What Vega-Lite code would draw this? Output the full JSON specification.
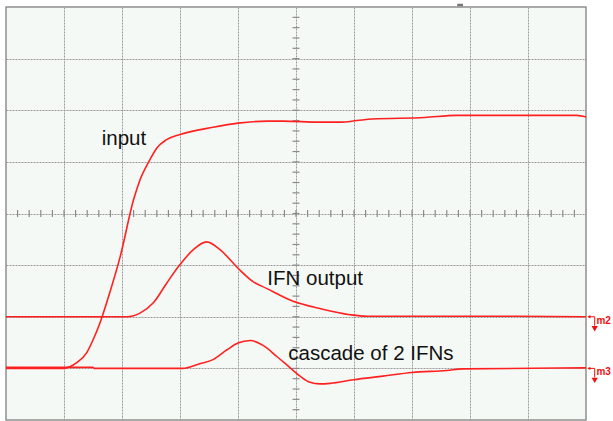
{
  "$schema": "https://vega.github.io/schema/vega-lite/v6.json",
  "width": 580,
  "height": 413,
  "autosize": {"type": "none", "contains": "content"},
  "padding": {"left": 6, "top": 7, "right": 27, "bottom": 1},
  "background": "white",
  "config": {
    "view": {"stroke": "#8f8f8f", "strokeWidth": 1.5, "fill": "#f5f9f5"},
    "axis": {"labels": false, "ticks": false, "domain": false, "grid": true, "gridColor": "#9a9a9a", "gridDash": [2, 1], "gridWidth": 1, "title": null}
  },
  "layer": [
    {
      "data": {"values": [{"x":0.2},{"x":0.4},{"x":0.6},{"x":0.8},{"x":1},{"x":1.2},{"x":1.4},{"x":1.6},{"x":1.8},{"x":2},{"x":2.2},{"x":2.4},{"x":2.6},{"x":2.8},{"x":3},{"x":3.2},{"x":3.4},{"x":3.6},{"x":3.8},{"x":4},{"x":4.2},{"x":4.4},{"x":4.6},{"x":4.8},{"x":5},{"x":5.2},{"x":5.4},{"x":5.6},{"x":5.8},{"x":6},{"x":6.2},{"x":6.4},{"x":6.6},{"x":6.8},{"x":7},{"x":7.2},{"x":7.4},{"x":7.6},{"x":7.8},{"x":8},{"x":8.2},{"x":8.4},{"x":8.6},{"x":8.8},{"x":9},{"x":9.2},{"x":9.4},{"x":9.6},{"x":9.8}]},
      "mark": {"type": "rule", "color": "#8a8a8a", "strokeWidth": 1.2},
      "encoding": {
        "x": {"field": "x", "type": "quantitative", "scale": {"domain": [0, 10], "nice": false, "zero": false}, "axis": {"values": [1, 2, 3, 4, 5, 6, 7, 8, 9], "title": null}},
        "y": {"datum": -0.07, "type": "quantitative", "scale": {"domain": [-4, 4], "nice": false, "zero": false}, "axis": {"values": [-3, -2, -1, 0, 1, 2, 3], "title": null}},
        "y2": {"datum": 0.07}
      }
    },
    {
      "data": {"values": [{"y":-3.8},{"y":-3.6},{"y":-3.4},{"y":-3.2},{"y":-3},{"y":-2.8},{"y":-2.6},{"y":-2.4},{"y":-2.2},{"y":-2},{"y":-1.8},{"y":-1.6},{"y":-1.4},{"y":-1.2},{"y":-1},{"y":-0.8},{"y":-0.6},{"y":-0.4},{"y":-0.2},{"y":0},{"y":0.2},{"y":0.4},{"y":0.6},{"y":0.8},{"y":1},{"y":1.2},{"y":1.4},{"y":1.6},{"y":1.8},{"y":2},{"y":2.2},{"y":2.4},{"y":2.6},{"y":2.8},{"y":3},{"y":3.2},{"y":3.4},{"y":3.6},{"y":3.8}]},
      "mark": {"type": "rule", "color": "#8a8a8a", "strokeWidth": 1.2},
      "encoding": {
        "x": {"datum": 4.94, "type": "quantitative"},
        "x2": {"datum": 5.06},
        "y": {"field": "y", "type": "quantitative"}
      }
    },
    {
      "data": {"values": [
        {"series":"input","x":0,"y":-3.0},
        {"series":"input","x":1.0,"y":-3.0},
        {"series":"input","x":1.1,"y":-2.97},
        {"series":"input","x":1.22,"y":-2.89},
        {"series":"input","x":1.39,"y":-2.7},
        {"series":"input","x":1.5,"y":-2.45},
        {"series":"input","x":1.62,"y":-2.12},
        {"series":"input","x":1.79,"y":-1.53},
        {"series":"input","x":1.97,"y":-0.83},
        {"series":"input","x":2.2,"y":0.27},
        {"series":"input","x":2.31,"y":0.65},
        {"series":"input","x":2.48,"y":1.04},
        {"series":"input","x":2.6,"y":1.27},
        {"series":"input","x":2.77,"y":1.43},
        {"series":"input","x":3.0,"y":1.53},
        {"series":"input","x":3.57,"y":1.67},
        {"series":"input","x":4.0,"y":1.75},
        {"series":"input","x":4.5,"y":1.79},
        {"series":"input","x":4.78,"y":1.79},
        {"series":"input","x":5.4,"y":1.77},
        {"series":"input","x":5.76,"y":1.77},
        {"series":"input","x":6.05,"y":1.8},
        {"series":"input","x":6.31,"y":1.83},
        {"series":"input","x":7.22,"y":1.86},
        {"series":"input","x":7.77,"y":1.9},
        {"series":"input","x":9.84,"y":1.9},
        {"series":"input","x":10,"y":1.87},
        {"series":"ifn","x":0,"y":-2.0},
        {"series":"ifn","x":2.08,"y":-2.0},
        {"series":"ifn","x":2.2,"y":-1.98},
        {"series":"ifn","x":2.31,"y":-1.93},
        {"series":"ifn","x":2.54,"y":-1.73},
        {"series":"ifn","x":2.77,"y":-1.35},
        {"series":"ifn","x":3.0,"y":-0.99},
        {"series":"ifn","x":3.23,"y":-0.7},
        {"series":"ifn","x":3.46,"y":-0.55},
        {"series":"ifn","x":3.69,"y":-0.7},
        {"series":"ifn","x":4.0,"y":-1.06},
        {"series":"ifn","x":4.26,"y":-1.32},
        {"series":"ifn","x":4.49,"y":-1.45},
        {"series":"ifn","x":4.95,"y":-1.7},
        {"series":"ifn","x":5.41,"y":-1.84},
        {"series":"ifn","x":5.93,"y":-1.96},
        {"series":"ifn","x":6.22,"y":-1.99},
        {"series":"ifn","x":8.8,"y":-1.99},
        {"series":"ifn","x":10,"y":-2.0},
        {"series":"cascade","x":0,"y":-2.98},
        {"series":"cascade","x":1.5,"y":-2.98},
        {"series":"cascade","x":1.52,"y":-3.0},
        {"series":"cascade","x":3.05,"y":-3.0},
        {"series":"cascade","x":3.34,"y":-2.91},
        {"series":"cascade","x":3.57,"y":-2.83},
        {"series":"cascade","x":3.81,"y":-2.64},
        {"series":"cascade","x":4.0,"y":-2.51},
        {"series":"cascade","x":4.21,"y":-2.46},
        {"series":"cascade","x":4.44,"y":-2.56},
        {"series":"cascade","x":4.67,"y":-2.77},
        {"series":"cascade","x":4.9,"y":-2.99},
        {"series":"cascade","x":5.07,"y":-3.15},
        {"series":"cascade","x":5.24,"y":-3.27},
        {"series":"cascade","x":5.41,"y":-3.3},
        {"series":"cascade","x":5.59,"y":-3.29},
        {"series":"cascade","x":5.99,"y":-3.22},
        {"series":"cascade","x":6.5,"y":-3.15},
        {"series":"cascade","x":7.0,"y":-3.08},
        {"series":"cascade","x":7.6,"y":-3.04},
        {"series":"cascade","x":7.88,"y":-3.01},
        {"series":"cascade","x":10,"y":-2.99}
      ]},
      "mark": {"type": "line", "color": "#ff2020", "strokeWidth": 1.6, "interpolate": "monotone"},
      "encoding": {
        "x": {"field": "x", "type": "quantitative"},
        "y": {"field": "y", "type": "quantitative"},
        "detail": {"field": "series"},
        "order": {"field": "x", "type": "quantitative"}
      }
    },
    {
      "data": {"values": [
        {"label":"input","x":1.65,"y":1.33},
        {"label":"IFN output","x":4.505,"y":-1.39},
        {"label":"cascade of 2 IFNs","x":4.867,"y":-2.83}
      ]},
      "mark": {"type": "text", "align": "left", "baseline": "alphabetic", "font": "Liberation Sans", "fontSize": 20.5, "color": "#111111"},
      "encoding": {
        "x": {"field": "x", "type": "quantitative"},
        "y": {"field": "y", "type": "quantitative"},
        "text": {"field": "label"}
      }
    },
    {
      "data": {"values": [{"name":"m2","level":-2},{"name":"m3","level":-3}]},
      "layer": [
        {
          "mark": {"type": "text", "align": "left", "baseline": "middle", "dy": 4, "font": "Liberation Sans", "fontSize": 10, "fontWeight": "bold", "color": "#ee1111"},
          "encoding": {"x": {"datum": 10.18, "type": "quantitative"}, "y": {"field": "level", "type": "quantitative"}, "text": {"field": "name"}}
        },
        {
          "mark": {"type": "rule", "color": "#ee1111", "strokeWidth": 1},
          "encoding": {"x": {"datum": 10.04, "type": "quantitative"}, "x2": {"datum": 10.15}, "y": {"field": "level", "type": "quantitative"}}
        },
        {
          "mark": {"type": "rule", "color": "#ee1111", "strokeWidth": 1, "y2Offset": 9},
          "encoding": {"x": {"datum": 10.15, "type": "quantitative"}, "y": {"field": "level", "type": "quantitative"}, "y2": {"field": "level"}}
        },
        {
          "mark": {"type": "point", "shape": "triangle-down", "filled": true, "color": "#ee1111", "size": 40, "yOffset": 12, "opacity": 1},
          "encoding": {"x": {"datum": 10.15, "type": "quantitative"}, "y": {"field": "level", "type": "quantitative"}}
        },
        {
          "mark": {"type": "point", "shape": "triangle-left", "filled": true, "color": "#ee1111", "size": 12, "opacity": 1},
          "encoding": {"x": {"datum": 10.05, "type": "quantitative"}, "y": {"field": "level", "type": "quantitative"}}
        }
      ]
    },
    {
      "data": {"values": [{"name":"trigger"}]},
      "mark": {"type": "rule", "color": "#777777", "strokeWidth": 2.5, "yOffset": -2},
      "encoding": {"x": {"datum": 7.78, "type": "quantitative"}, "x2": {"datum": 7.88}, "y": {"datum": 4, "type": "quantitative"}}
    }
  ]
}
